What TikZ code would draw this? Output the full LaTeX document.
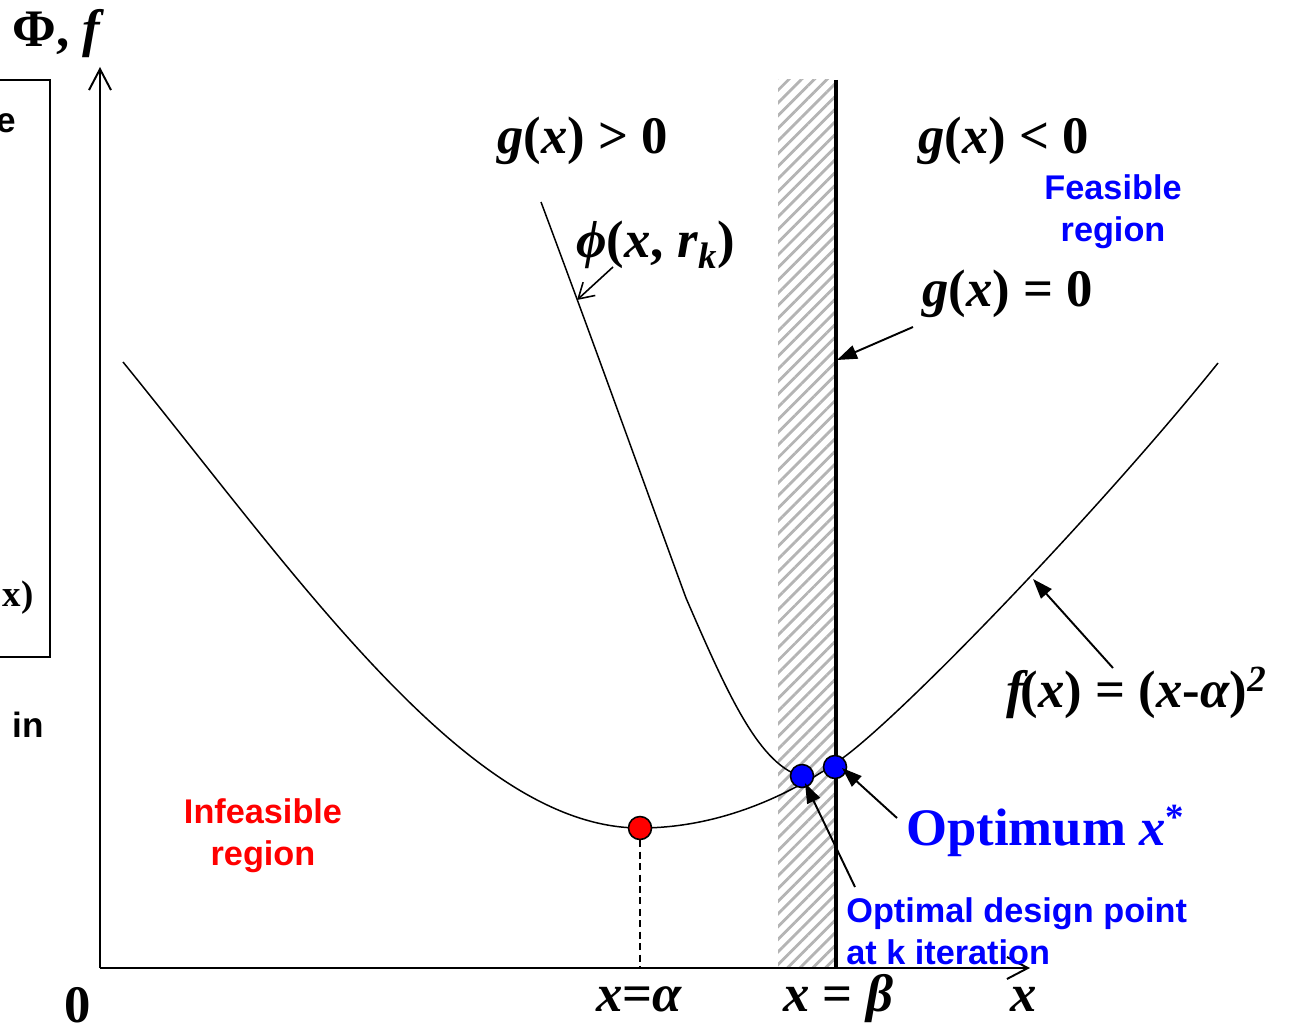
\documentclass[tikz,border=0pt]{standalone}
\usepackage{fontspec}
\setmainfont{Liberation Serif}
\setsansfont{Liberation Sans}
\usetikzlibrary{arrows.meta, patterns.meta}
\definecolor{ink}{HTML}{000000}
\definecolor{optblue}{HTML}{0000FF}
\definecolor{infred}{HTML}{FF0000}
\definecolor{hatchgray}{HTML}{B4B4B4}
\newcommand{\vi}[1]{\textit{#1}}
\tikzset{
  axisline/.style    = {line width=1.1pt, draw=ink,
                         -{Straight Barb[length=4.2mm, width=4.4mm, line width=1.1pt]}},
  curveline/.style   = {line width=0.85pt, draw=ink},
  boundline/.style   = {line width=1.8pt, draw=ink},
  guide/.style       = {line width=0.8pt, draw=ink, dash pattern=on 4pt off 2.5pt},
  openpointer/.style = {line width=0.9pt, draw=ink,
                         -{Straight Barb[length=3mm, width=3.6mm, line width=0.9pt]}},
  pointer/.style     = {line width=1.1pt, draw=ink, -{Triangle[length=4mm, width=2.8mm]}},
  dotmark/.style     = {circle, draw=ink, line width=0.9pt, minimum size=0.46cm, inner sep=0pt},
  mathlabel/.style   = {font=\fontsize{30}{36}\selectfont\bfseries, inner sep=0pt, anchor=base west},
  bluelabel/.style   = {font=\fontsize{19.5}{23.8}\selectfont\sffamily\bfseries, text=optblue,
                         inner sep=0pt},
  redlabel/.style    = {font=\fontsize{19.5}{23.8}\selectfont\sffamily\bfseries, text=infred,
                         inner sep=0pt, align=center},
}

\begin{document}
\begin{tikzpicture}[x=0.02cm, y=-0.02cm]
  \useasboundingbox (0,0) rectangle (1290,1033);
  \clip (0,0) rectangle (1290,1033);

  % cut-off box of the neighbouring panel
  \draw[line width=1.1pt] (-20,80) rectangle (50,657);
  \node[font=\fontsize{20}{24}\selectfont\sffamily\bfseries, inner sep=0pt, anchor=base east] (lefte) at (16,133) {e};
  \node[font=\fontsize{21}{25}\selectfont\bfseries, inner sep=0pt, anchor=base east] (leftx) at (34,606) {x)};
  \node[font=\fontsize{20}{24}\selectfont\sffamily\bfseries, inner sep=0pt, anchor=base west] (leftin) at (12,737) {in};

  % constraint boundary g(x)=0
  \fill[pattern={Lines[angle=45, distance=5.1pt, line width=1.6pt]}, pattern color=hatchgray]
    (778,80) rectangle (834,968);
  \coordinate (btop) at (836,80);
  \coordinate (bbot) at (836,968);
  \draw[boundline] (btop) -- (bbot);

  % axes
  \coordinate (O) at (100,968);
  \coordinate (ytop) at (100,67);
  \coordinate (xend) at (1030,968);
  \draw[axisline] (O) -- (ytop);
  \draw[axisline] (O) -- (xend);

  % f(x) and phi(x, r_k)
  \draw[curveline] (123,362) .. controls (300,580) and (470,828) .. (640,828)
    .. controls (720,828) and (790,795) .. (840,760)
    .. controls (900,718) and (1100,510) .. (1218,363);
  \draw[curveline] (541,202) .. controls (600,360) and (650,500) .. (686,598)
    .. controls (730,700) and (760,765) .. (803,777);

  \node[dotmark, fill=infred] (xalpha) at (640,828) {};
  \node[dotmark, fill=optblue] (xk) at (802,776) {};
  \node[dotmark, fill=optblue] (xopt) at (835,767) {};
  \draw[guide] (xalpha.south) -- (xalpha |- O);

  % labels
  \node[mathlabel] (phif) at (12,47) {Φ, \vi{f}};
  \node[mathlabel] (zero) at (64,1022) {0};
  \node[mathlabel] (xalab) at (596,1011) {\vi{x}=\vi{α}};
  \node[mathlabel] (xblab) at (783,1011) {\vi{x} = \vi{β}};
  \node[mathlabel] (xlab) at (1010,1011) {\vi{x}};
  \node[mathlabel] (gpos) at (497,154) {\vi{g}(\vi{x}) > 0};
  \node[mathlabel] (gneg) at (918,154) {\vi{g}(\vi{x}) < 0};
  \node[mathlabel] (gzero) at (922,307) {\vi{g}(\vi{x}) = 0};
  \node[mathlabel] (philab) at (576,258) {\vi{ϕ}(\vi{x}, \vi{r}\textsubscript{\vi{k}})};
  \node[mathlabel] (flab) at (1006,707) {{\itshape f\kern-0.06em}(\vi{x}) = (\vi{x}-\vi{α})\textsuperscript{\vi{2}}};
  \node[mathlabel, text=optblue] (optlab) at (906,845) {Optimum \vi{x}\textsuperscript{*}};
  \node[bluelabel, align=center] (feas) at (1113,212) {Feasible\\region};
  \node[bluelabel, align=left, anchor=west] (designlab) at (846,931) {Optimal design point\\at k iteration};
  \node[redlabel] (infeas) at (263,836) {Infeasible\\region};

  % pointers
  \coordinate (phitail) at (613,267);
  \coordinate (phihead) at (577,300);
  \draw[openpointer] (phitail) -- (phihead);
  \coordinate (gtail) at (913,327);
  \coordinate (ghead) at (837,360);
  \draw[pointer] (gtail) -- (ghead);
  \coordinate (ftail) at (1113,668);
  \coordinate (fhead) at (1033,579);
  \draw[pointer] (ftail) -- (fhead);
  \coordinate (opttail) at (897,818);
  \coordinate (opthead) at (842,768);
  \draw[pointer] (opttail) -- (opthead);
  \coordinate (designtail) at (855,887);
  \coordinate (designhead) at (805,783);
  \draw[pointer] (designtail) -- (designhead);
\end{tikzpicture}
\end{document}
